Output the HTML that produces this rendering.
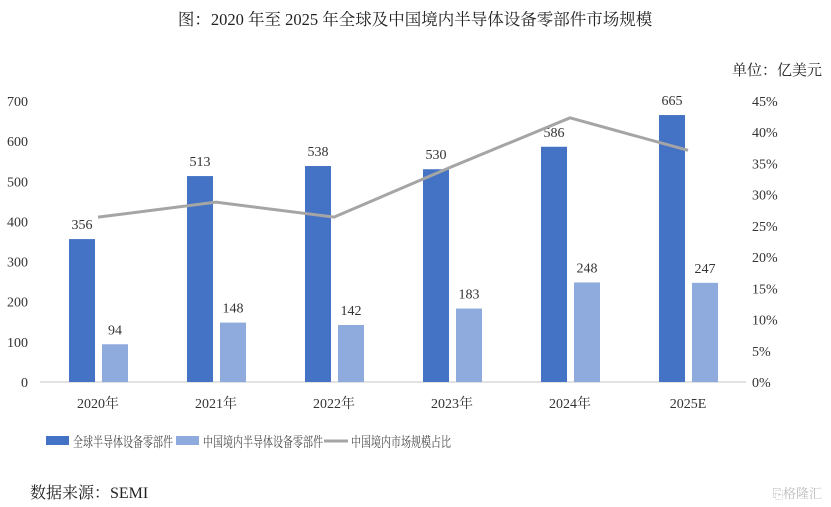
<!DOCTYPE html>
<html><head><meta charset="utf-8"><style>
body{margin:0;background:#fff;}
svg{display:block;font-family:"Liberation Serif","Noto Serif CJK SC",serif;}
</style></head><body>
<svg id="c" width="831" height="507" viewBox="0 0 831 507">
<text x="415" y="25" text-anchor="middle" font-size="16.5" fill="#222">图：2020 年至 2025 年全球及中国境内半导体设备零部件市场规模</text>
<text x="822" y="75" text-anchor="end" font-size="15" fill="#222">单位：亿美元</text>
<g id="g"></g>
<text x="30" y="498" font-size="16" fill="#222">数据来源：SEMI</text>
<text x="822" y="498" text-anchor="end" font-size="13" fill="#bbb">⎘格隆汇</text>
</svg>
<script>
const categories=["2020年","2021年","2022年","2023年","2024年","2025E"];
const globalVals=[356,513,538,530,586,665];
const chinaVals=[94,148,142,183,248,247];
const shareVals=[26.4,28.8,26.4,34.5,42.3,37.1];
const leftTicks=[0,100,200,300,400,500,600,700];
const rightTicks=[0,5,10,15,20,25,30,35,40,45];
const NS="http://www.w3.org/2000/svg";
const g=document.getElementById('g');
const y0=382,yTop=101;
const yL=v=>y0-(v/700)*(y0-yTop);
const yR=v=>y0-(v/45)*(y0-yTop);
const xC=i=>98+118*i;
function el(t,a,txt){const e=document.createElementNS(NS,t);for(const k in a)e.setAttribute(k,a[k]);if(txt!=null)e.textContent=txt;g.appendChild(e);return e;}
let e=el('line',{x1:40,x2:746,y1:y0,y2:y0,stroke:'#d9d9d9','stroke-width':1.5});


leftTicks.forEach(v=>{const t=el('text',{x:28,y:yL(v)+5,'text-anchor':'end','font-size':14,fill:'#333'},v);

});
rightTicks.forEach(v=>{const t=el('text',{x:752,y:yR(v)+5,'font-size':14,fill:'#333'},v+'%');

});
categories.forEach((c,i)=>{
 const b=el('rect',{x:xC(i)-29,y:yL(globalVals[i]),width:26,height:y0-yL(globalVals[i]),fill:'#4472c4'});
 
 
 const b2=el('rect',{x:xC(i)+4,y:yL(chinaVals[i]),width:26,height:y0-yL(chinaVals[i]),fill:'#8faadc'});
 
 
 const l1=el('text',{x:xC(i)-16,y:yL(globalVals[i])-10,'text-anchor':'middle','font-size':14,fill:'#333'},globalVals[i]);
 
 
 const l2=el('text',{x:xC(i)+17,y:yL(chinaVals[i])-10,'text-anchor':'middle','font-size':14,fill:'#333'},chinaVals[i]);
 
 
 const xl=el('text',{x:xC(i),y:408,'text-anchor':'middle','font-size':14,fill:'#333'},c);
 
 
});
const pl=el('polyline',{points:shareVals.map((v,i)=>xC(i)+','+yR(v)).join(' '),fill:'none',stroke:'#a5a5a5','stroke-width':3});


const leg=[['rect','#4472c4','全球半导体设备零部件',46,100],['rect','#8faadc','中国境内半导体设备零部件',176,120],['line','#a5a5a5','中国境内市场规模占比',324,100]];
leg.forEach(([k,col,txt,x,w])=>{
 const m=k==='rect'?el('rect',{x:x,y:436,width:23,height:9,fill:col}):el('line',{x1:x,x2:x+24,y1:441,y2:441,stroke:col,'stroke-width':3});
 
 
 const t=el('text',{x:x+27,y:447,'font-size':14,fill:'#444',textLength:w,lengthAdjust:'spacingAndGlyphs'},txt);
 
 
});
</script>
</body></html>
